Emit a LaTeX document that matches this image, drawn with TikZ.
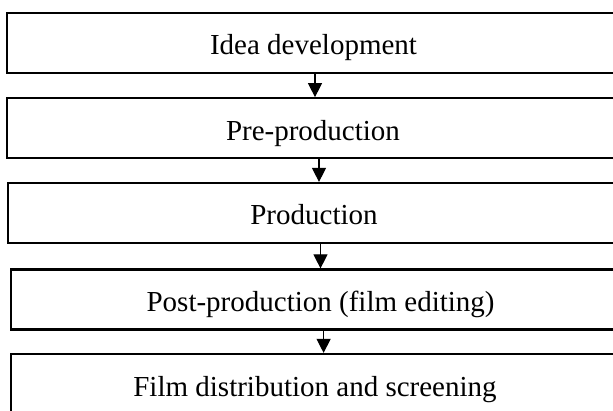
\documentclass[tikz,border=0pt]{standalone}
\usepackage{fontspec}
\setmainfont{Liberation Serif}
\usetikzlibrary{arrows.meta}
\begin{document}
\begin{tikzpicture}[x=1pt,y=-1pt,
  stagebox/.style={draw, line width=2.2pt, minimum height=60pt, inner sep=0pt,
    text height=26pt, text depth=2pt, font=\fontsize{29}{34}\selectfont},
  flow/.style={-{Triangle[width=14pt,length=14pt]}, line width=1.2pt}]
\useasboundingbox (0,0) rectangle (613,411);
\clip (0,0) rectangle (613,411);
\fill[white] (0,0) rectangle (613,411);
\node[stagebox, minimum width=613pt] (b1) at (313.5,43) {Idea development};
\node[stagebox, minimum width=612pt] (b2) at (313,128.25) {Pre-production};
\node[stagebox, minimum width=612pt] (b3) at (314,213) {Production};
\node[stagebox, minimum width=620pt] (b4) at (320.6,299.5) {Post-production (film editing)};
\node[stagebox, minimum width=608pt] (b5) at (315,384) {Film distribution and screening};
\draw[flow] ([xshift=1.5pt]b1.south) -- ([xshift=1.5pt]b1.south |- b2.north);
\draw[flow] ([xshift=6pt]b2.south) -- ([xshift=6pt]b2.south |- b3.north);
\draw[flow] ([xshift=6.5pt]b3.south) -- ([xshift=6.5pt]b3.south |- b4.north);
\draw[flow] ([xshift=3pt]b4.south) -- ([xshift=3pt]b4.south |- b5.north);
\end{tikzpicture}
\end{document}
